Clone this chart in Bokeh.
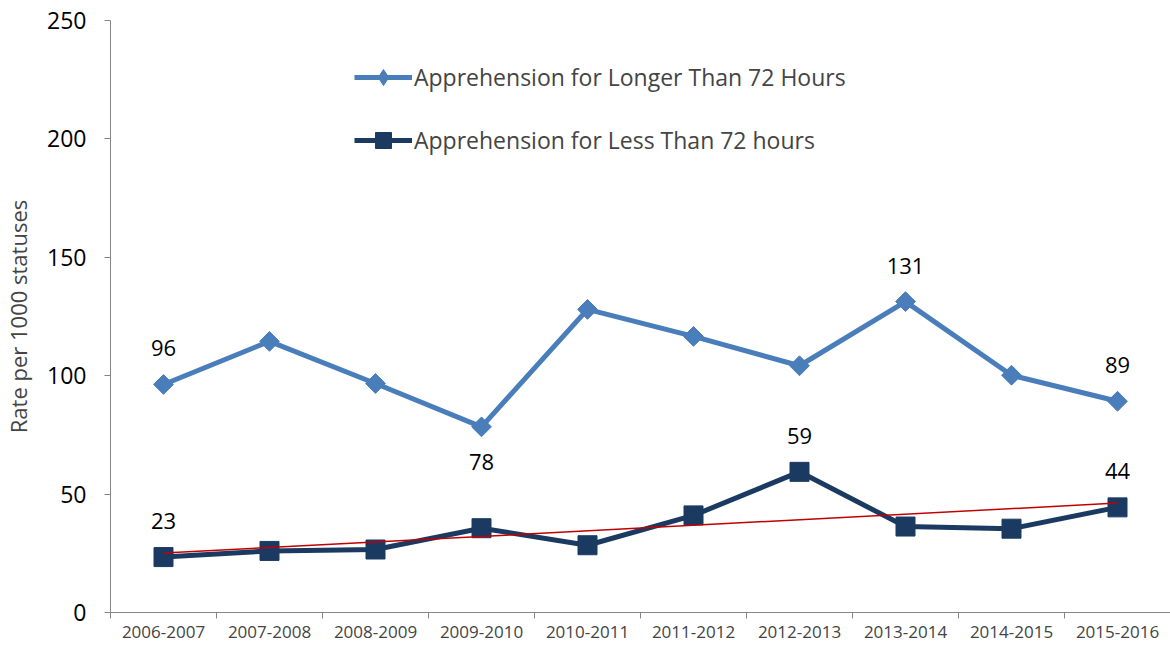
import numpy as np
from bokeh.plotting import figure
from bokeh.models import FixedTicker, LinearAxis, Range1d, Legend
from bokeh.core.properties import value
from bokeh.embed import file_html
from bokeh.resources import INLINE

years = ["2006-2007", "2007-2008", "2008-2009", "2009-2010", "2010-2011",
         "2011-2012", "2012-2013", "2013-2014", "2014-2015", "2015-2016"]
longer = [96.3, 114.5, 96.7, 78.4, 128.0, 116.6, 104.2, 131.3, 100.2, 89.2]
less = [23.4, 26.0, 26.6, 35.6, 28.4, 41.0, 59.4, 36.3, 35.4, 44.4]
longer_label_idx = [0, 3, 7, 9]
longer_label_side = ["above", "below", "above", "above"]
less_label_idx = [0, 6, 9]

FONT = "Open Sans"
C_LONG = "#4A7EBB"
C_LESS = "#1B3A62"
C_TREND = "#C00000"
AXIS_C = "#868686"

xs = [i + 0.5 for i in range(len(years))]
bounds = list(range(len(years) + 1))

p = figure(width=1170, height=646, output_backend="svg", toolbar_location=None,
           x_range=Range1d(0, len(years)), y_range=Range1d(0, 250),
           min_border_left=108, min_border_right=0, min_border_top=20, min_border_bottom=34)
p.outline_line_color = None
p.xgrid.visible = False
p.ygrid.visible = False
p.background_fill_color = "white"

# y axis
p.yaxis.ticker = FixedTicker(ticks=[0, 50, 100, 150, 200, 250])
p.yaxis.minor_tick_line_color = None
p.yaxis.major_tick_in = 0
p.yaxis.major_tick_out = 6
p.yaxis.axis_line_color = AXIS_C
p.yaxis.major_tick_line_color = AXIS_C
p.yaxis.major_label_text_font = FONT
p.yaxis.major_label_text_font_size = "23px"
p.yaxis.major_label_text_color = "black"
p.yaxis.major_label_standoff = 18
p.yaxis.axis_label = "Rate per 1000 statuses"
p.yaxis.axis_label_text_font = FONT
p.yaxis.axis_label_text_font_size = "22px"
p.yaxis.axis_label_text_font_style = "normal"
p.yaxis.axis_label_standoff = 11

# x axis: boundary ticks (no labels)
p.xaxis.ticker = FixedTicker(ticks=bounds)
p.xaxis.major_label_overrides = {b: "" for b in bounds}
p.xaxis.minor_tick_line_color = None
p.xaxis.major_tick_in = 0
p.xaxis.major_tick_out = 6
p.xaxis.axis_line_color = AXIS_C
p.xaxis.major_tick_line_color = AXIS_C
p.xaxis.major_label_text_font_size = "0px"
p.xaxis.major_label_standoff = 0

# x axis: category labels
lab_axis = LinearAxis(ticker=FixedTicker(ticks=xs),
                      major_label_overrides={x: y for x, y in zip(xs, years)})
lab_axis.axis_line_color = None
lab_axis.major_tick_line_color = None
lab_axis.minor_tick_line_color = None
lab_axis.major_label_text_font = FONT
lab_axis.major_label_text_font_size = "17px"
lab_axis.major_label_standoff = 1
p.add_layout(lab_axis, "below")

# series
l1 = p.line(xs, longer, line_color=C_LONG, line_width=5)
m1 = p.scatter(xs, longer, marker="square", angle=np.pi / 4, size=14,
               fill_color=C_LONG, line_color=C_LONG)
l2 = p.line(xs, less, line_color=C_LESS, line_width=5)
m2 = p.scatter(xs, less, marker="square", size=19, fill_color=C_LESS, line_color=C_LESS)

# legend-only diamond glyph (not drawn in the plot area)
m1_key = p.scatter([np.nan], [np.nan], marker="diamond", size=20,
                   fill_color=C_LONG, line_color=C_LONG)

# linear trend of "less" series
coef = np.polyfit(xs, less, 1)
tx = [xs[0], xs[-1]]
ty = [coef[0] * t + coef[1] for t in tx]
p.line(tx, ty, line_color=C_TREND, line_width=1.5)

# data labels
def add_label(x, y, txt, side):
    p.text([x], [y], text=[txt], text_align="center",
           text_baseline="bottom" if side == "above" else "top",
           y_offset=-28 if side == "above" else 27,
           text_font=value(FONT), text_font_size="22px", text_color="black")

for idx, side in zip(longer_label_idx, longer_label_side):
    add_label(xs[idx], longer[idx], f"{round(longer[idx])}", side)
for idx in less_label_idx:
    add_label(xs[idx], less[idx], f"{round(less[idx])}", "above")

legend = Legend(items=[("Apprehension for Longer Than 72 Hours", [l1, m1_key]),
                       ("Apprehension for Less Than 72 hours", [l2, m2])],
                location=(244, 452), orientation="vertical")
legend.label_text_font = FONT
legend.label_text_font_size = "23px"
legend.label_standoff = 2
legend.glyph_width = 58
legend.glyph_height = 40
legend.label_height = 40
legend.spacing = 23
legend.padding = 0
legend.margin = 0
legend.border_line_color = None
legend.background_fill_alpha = 0
p.add_layout(legend, "center")

open("out.html", "w").write(file_html(p, INLINE))
